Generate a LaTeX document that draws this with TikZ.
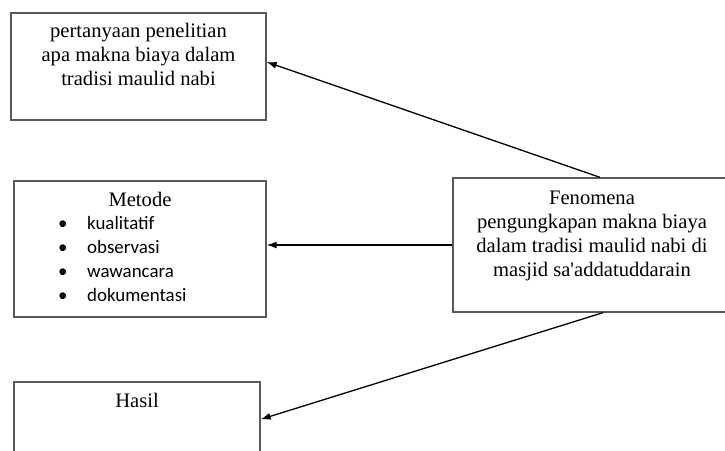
\documentclass[tikz,border=0pt]{standalone}
\usepackage{fontspec}
\setmainfont{Liberation Serif}
\newfontfamily\itemfont{Carlito}
\usepackage{tikz}
\usetikzlibrary{ positioning, arrows.meta, calc }

\begin{document}
\begin{tikzpicture}[
  x=1pt, y=1pt,
  box/.style={draw=black!65, line width=1.3pt, inner sep=0pt},
  txt/.style={inner sep=0pt, align=center, font=\fontsize{20.6}{24}\selectfont},
  itemtxt/.style={inner sep=0pt, align=left, font=\itemfont\fontsize{18.9}{24}\selectfont},
  ar/.style={-{Latex[length=10pt,width=7pt]}, line width=1.3pt},
]
  \useasboundingbox (0,0) rectangle (725,450);

  \node[box, minimum width=255pt, minimum height=107pt] (question) at (138.5,383.5) {};
  \node[box, minimum width=252pt, minimum height=136pt] (method) at (140,201) {};
  \node[box, minimum width=246pt, minimum height=100pt] (result) at (137,18) {};
  \node[box, minimum width=278pt, minimum height=134pt] (phenomenon) at (592,205) {};

  \node[txt, below=10.5pt of question.north] (questiontext)
    {pertanyaan penelitian\\apa makna biaya dalam\\tradisi maulid nabi};
  \node[txt, below=12pt of method.north] (methodtitle) {Metode};
  \node[itemtxt, anchor=north west] (methodlist) at ([xshift=-82pt, yshift=-9pt]methodtitle.south)
    {\makebox[29pt][l]{•}kualitatif\\
     \makebox[29pt][l]{•}observasi\\
     \makebox[29pt][l]{•}wawancara\\
     \makebox[29pt][l]{•}dokumentasi};
  \node[txt, below=12pt of result.north] (resulttitle) {Hasil};
  \node[txt, below=13pt of phenomenon.north] (phenomenontext)
    {Fenomena\\pengungkapan makna biaya\\dalam tradisi maulid nabi di\\masjid sa\textquotesingle addatuddarain};

  \draw[ar] ([xshift=8pt]phenomenon.north) -- ([yshift=4.5pt]question.east);
  \draw[ar] (phenomenon.west) -- (phenomenon.west -| method.east);
  \draw[ar] ([xshift=11pt]phenomenon.south) -- ([yshift=-38pt]result.north east);
\end{tikzpicture}
\end{document}
